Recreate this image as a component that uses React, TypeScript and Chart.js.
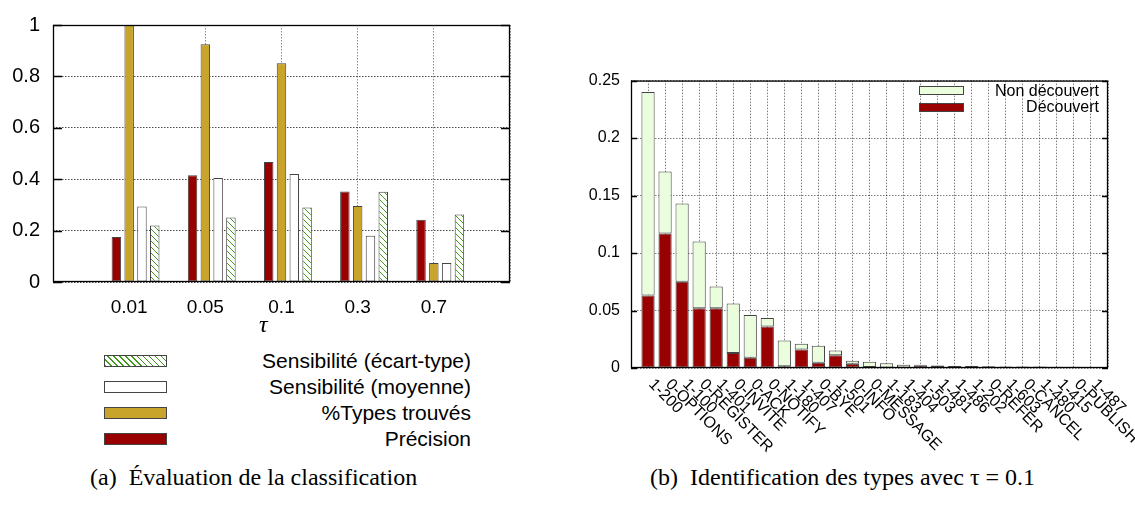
import React, { useEffect, useRef } from 'react';
import { Chart, registerables } from 'chart.js';

Chart.register(...registerables);

// ---------- Left chart (a) data ----------
const tauLabels = ['0.01', '0.05', '0.1', '0.3', '0.7'];
const precisionValues = [0.175, 0.415, 0.467, 0.352, 0.242];
const typesTrouvesValues = [1.0, 0.925, 0.851, 0.296, 0.074];
const sensMoyenneValues = [0.294, 0.405, 0.42, 0.18, 0.074];
const sensEcartValues = [0.22, 0.251, 0.29, 0.351, 0.263];
const leftYTicks = [0, 0.2, 0.4, 0.6, 0.8, 1];

// ---------- Right chart (b) data ----------
const typeLabels = [
  '1-200', '0-OPTIONS', '1-100', '0-REGISTER', '1-401', '0-INVITE', '0-ACK', '0-NOTIFY',
  '1-180', '1-407', '0-BYE', '1-501', '0-INFO', '0-MESSAGE', '1-183', '1-404', '1-503',
  '1-481', '1-486', '1-202', '0-REFER', '1-603', '0-CANCEL', '1-480', '1-415', '0-PUBLISH', '1-487',
];
const decouvertValues = [
  0.063, 0.117, 0.075, 0.052, 0.052, 0.013, 0.009, 0.036, 0.0015, 0.016, 0.0046, 0.011, 0.0036,
  0.0009, 0, 0, 0.0025, 0.0017, 0, 0, 0, 0, 0, 0, 0.0005, 0, 0,
];
const nonDecouvertValues = [
  0.177, 0.054, 0.068, 0.058, 0.019, 0.043, 0.037, 0.0075, 0.0225, 0.005, 0.0148, 0.0043, 0.0028,
  0.0046, 0.0042, 0.0029, 0.0004, 0.0004, 0.0017, 0.0017, 0.0016, 0.0013, 0.0012, 0.0012, 0.0006,
  0.001, 0.0004,
];
const rightYTicks = [0, 0.05, 0.1, 0.15, 0.2, 0.25];

// ---------- styles ----------
const RED = '#990000';
const GOLD = '#C8A52A';
const LIGHT_GREEN = '#EAFDDC';
const HATCH_GREEN = '#3f9a1c';
const BAR_BORDER = '#444444';
const SANS = '"Liberation Sans", Arial, Helvetica, sans-serif';
const SERIF = '"Liberation Serif", "Times New Roman", serif';

const pad = (arr: (number | null)[]) => [null, ...arr, null];

const framePlugin = {
  id: 'frame',
  afterDraw(chart: any, _args: any, opts: any) {
    const { ctx, chartArea: a } = chart;
    const ys = chart.scales.y;
    ctx.save();
    ctx.strokeStyle = '#000';
    ctx.lineWidth = 1.3;
    ctx.strokeRect(a.left + 0.5, a.top + 0.5, a.right - a.left - 1, a.bottom - a.top - 1);
    ctx.beginPath();
    ys.ticks.forEach((_t: any, i: number) => {
      const y = Math.round(ys.getPixelForTick(i)) + 0.5;
      ctx.moveTo(a.left, y);
      ctx.lineTo(a.left + (opts.len || 6), y);
      ctx.moveTo(a.right, y);
      ctx.lineTo(a.right - (opts.len || 6), y);
    });
    ctx.stroke();
    ctx.restore();
  },
};

const rotatedLabelsPlugin = {
  id: 'rotatedLabels',
  afterDraw(chart: any) {
    const { ctx, chartArea: a } = chart;
    const xs = chart.scales.x;
    ctx.save();
    ctx.font = `16px ${SANS}`;
    ctx.fillStyle = '#000';
    ctx.textAlign = 'left';
    ctx.textBaseline = 'middle';
    typeLabels.forEach((lab, i) => {
      const x = xs.getPixelForValue(i + 1);
      ctx.save();
      ctx.translate(x + 3, a.bottom + 14);
      ctx.rotate(Math.PI / 4);
      ctx.fillText(lab, 0, 0);
      ctx.restore();
    });
    ctx.restore();
  },
};

function makeHatch(): CanvasPattern | string {
  const c = document.createElement('canvas');
  c.width = 6;
  c.height = 6;
  const g = c.getContext('2d');
  if (!g) return '#fff';
  g.fillStyle = '#ffffff';
  g.fillRect(0, 0, 6, 6);
  g.strokeStyle = HATCH_GREEN;
  g.lineWidth = 1;
  g.beginPath();
  [-6, 0, 6].forEach((k) => {
    g.moveTo(k, 0);
    g.lineTo(k + 6, 6);
  });
  g.stroke();
  return g.createPattern(c, 'repeat') || '#fff';
}

export default function App() {
  const leftRef = useRef<HTMLCanvasElement>(null);
  const rightRef = useRef<HTMLCanvasElement>(null);

  useEffect(() => {
    document.body.style.margin = '0';
    const hatch = makeHatch();
    const common = {
      borderColor: BAR_BORDER,
      borderWidth: 1,
      borderSkipped: false as const,
      categoryPercentage: 0.84,
      barPercentage: 0.74,
    };
    const leftChart = new Chart(leftRef.current as HTMLCanvasElement, {
      type: 'bar',
      data: {
        labels: ['', ...tauLabels, ''],
        datasets: [
          { label: '', data: pad(tauLabels.map(() => null)), backgroundColor: 'rgba(0,0,0,0)', ...common, borderWidth: 0 },
          { label: 'Précision', data: pad(precisionValues), backgroundColor: RED, ...common },
          { label: '%Types trouvés', data: pad(typesTrouvesValues), backgroundColor: GOLD, ...common },
          { label: 'Sensibilité (moyenne)', data: pad(sensMoyenneValues), backgroundColor: '#ffffff', ...common },
          { label: 'Sensibilité (écart-type)', data: pad(sensEcartValues), backgroundColor: hatch as any, ...common },
        ],
      },
      options: {
        animation: false,
        responsive: true,
        maintainAspectRatio: false,
        layout: { padding: { top: 24, right: 15, left: 0, bottom: 0 } },
        plugins: { legend: { display: false }, tooltip: { enabled: false }, frame: { len: 9 } } as any,
        scales: {
          x: {
            offset: false,
            grid: { offset: false, color: 'rgba(0,0,0,0.45)', drawTicks: false, lineWidth: 1 },
            border: { display: false, dash: [1.5, 1.5] },
            ticks: { autoSkip: false, maxRotation: 0, padding: 14, color: '#000', font: { family: SANS, size: 19 } },
            afterFit: (s: any) => { s.height = 48; },
          },
          y: {
            min: 0,
            max: 1,
            afterBuildTicks: (s: any) => { s.ticks = leftYTicks.map((v) => ({ value: v })); },
            grid: { color: 'rgba(0,0,0,0.7)', drawTicks: false, lineWidth: 1 },
            border: { display: false, dash: [1.5, 1.5] },
            ticks: { padding: 13, color: '#000', font: { family: SANS, size: 20 }, callback: (v: any) => String(v) },
            afterFit: (s: any) => { s.width = 53; },
          },
        },
      },
      plugins: [framePlugin],
    });

    const rcommon = {
      borderColor: BAR_BORDER,
      borderWidth: 1,
      borderSkipped: false as const,
      categoryPercentage: 1,
      barPercentage: 0.775,
    };
    const rightChart = new Chart(rightRef.current as HTMLCanvasElement, {
      type: 'bar',
      data: {
        labels: ['', ...typeLabels, ''],
        datasets: [
          { label: 'Découvert', data: pad(decouvertValues), backgroundColor: RED, ...rcommon },
          { label: 'Non découvert', data: pad(nonDecouvertValues), backgroundColor: LIGHT_GREEN, ...rcommon },
        ],
      },
      options: {
        animation: false,
        responsive: true,
        maintainAspectRatio: false,
        layout: { padding: { top: 17, right: 27, left: 0, bottom: 0 } },
        plugins: { legend: { display: false }, tooltip: { enabled: false }, frame: { len: 6 } } as any,
        scales: {
          x: {
            stacked: true,
            offset: false,
            grid: { offset: false, color: 'rgba(0,0,0,0.5)', drawTicks: false, lineWidth: 1 },
            border: { display: false, dash: [1.5, 1.5] },
            ticks: { display: false, autoSkip: false },
            afterFit: (s: any) => { s.height = 92; },
          },
          y: {
            stacked: true,
            min: 0,
            max: 0.25,
            afterBuildTicks: (s: any) => { s.ticks = rightYTicks.map((v) => ({ value: v })); },
            grid: { color: 'rgba(0,0,0,0.5)', drawTicks: false, lineWidth: 1 },
            border: { display: false, dash: [1.5, 1.5] },
            ticks: { padding: 11, color: '#000', font: { family: SANS, size: 16 }, callback: (v: any) => String(v) },
            afterFit: (s: any) => { s.width = 71; },
          },
        },
      },
      plugins: [framePlugin, rotatedLabelsPlugin],
    });

    return () => {
      leftChart.destroy();
      rightChart.destroy();
    };
  }, []);

  const leftLegend = [
    { label: 'Sensibilité (écart-type)', bg: `repeating-linear-gradient(45deg, ${HATCH_GREEN} 0px, ${HATCH_GREEN} 1px, #ffffff 1px, #ffffff 4.2px)` },
    { label: 'Sensibilité (moyenne)', bg: '#ffffff' },
    { label: '%Types trouvés', bg: GOLD },
    { label: 'Précision', bg: RED },
  ];
  const leftLegendY = [360.7, 386.7, 412.7, 438.7];

  const rightLegend = [
    { label: 'Non découvert', bg: LIGHT_GREEN },
    { label: 'Découvert', bg: RED },
  ];
  const rightLegendY = [90.8, 107.2];

  return (
    <div style={{ position: 'absolute', left: 0, top: 0, width: 1135, height: 505, background: '#fff', overflow: 'hidden', fontFamily: SANS, color: '#000' }}>
      <div style={{ position: 'absolute', left: 0, top: 0, width: 525, height: 330 }}>
        <canvas ref={leftRef} />
      </div>
      <div style={{ position: 'absolute', left: 560, top: 60, width: 575, height: 400 }}>
        <canvas ref={rightRef} />
      </div>

      <span style={{ position: 'absolute', left: 259, top: 312, fontFamily: SERIF, fontStyle: 'italic', fontSize: 24, lineHeight: '24px' }}>τ</span>

      {leftLegend.map((l, i) => (
        <React.Fragment key={l.label}>
          <div style={{ position: 'absolute', left: 104, top: leftLegendY[i] - 6, width: 63, height: 12, boxSizing: 'border-box', border: `1px solid ${BAR_BORDER}`, background: l.bg }} />
          <div style={{ position: 'absolute', right: 1135 - 471, top: leftLegendY[i] - 12, fontSize: 21, lineHeight: '24px', whiteSpace: 'nowrap', textAlign: 'right' }}>{l.label}</div>
        </React.Fragment>
      ))}

      {rightLegend.map((l, i) => (
        <React.Fragment key={l.label}>
          <div style={{ position: 'absolute', left: 919, top: rightLegendY[i] - 4.5, width: 45, height: 9, boxSizing: 'border-box', border: `1px solid ${BAR_BORDER}`, background: l.bg }} />
          <div style={{ position: 'absolute', right: 1135 - 1099, top: rightLegendY[i] - 9, fontSize: 16, lineHeight: '18px', whiteSpace: 'nowrap', textAlign: 'right' }}>{l.label}</div>
        </React.Fragment>
      ))}

      <div style={{ position: 'absolute', left: 90, top: 465, fontFamily: SERIF, fontSize: 24, lineHeight: '24px', whiteSpace: 'pre' }}>{'(a)  Évaluation de la classification'}</div>
      <div style={{ position: 'absolute', left: 650, top: 465, fontFamily: SERIF, fontSize: 24, lineHeight: '24px', whiteSpace: 'pre' }}>{'(b)  Identification des types avec τ = 0.1'}</div>
    </div>
  );
}
